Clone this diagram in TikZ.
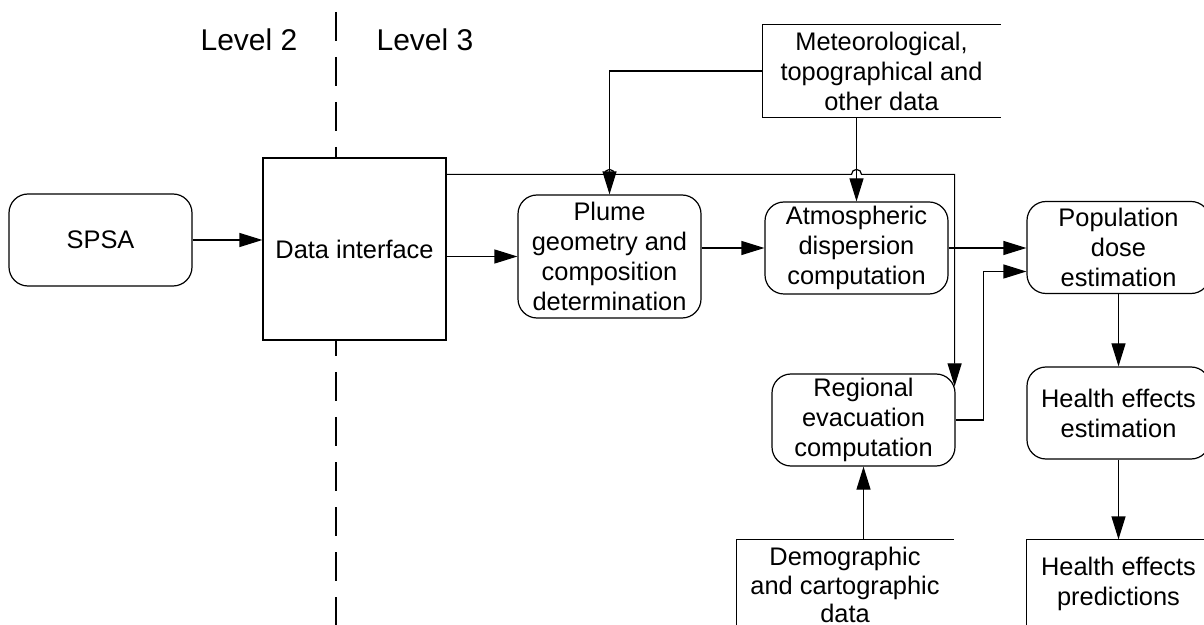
\documentclass[tikz,border=0pt]{standalone}
\usepackage{fontspec}
\setmainfont{Liberation Sans}
\usetikzlibrary{arrows.meta,calc}

\begin{document}
\begin{tikzpicture}[x=0.5pt,y=-0.5pt,line width=0.6pt,
  every node/.style={font=\fontsize{12.7}{15}\selectfont,align=center},
  proc/.style={draw,rounded corners=9.5pt,fill=white,minimum width=91.5pt,minimum height=46pt,inner sep=0pt},
  store/.style={minimum width=#1,minimum height=46pt,inner sep=0pt},
  lvl/.style={font=\fontsize{15}{18}\selectfont},
  >={Triangle[length=11.5pt,width=7pt]}]
\useasboundingbox (0,0) rectangle (1204,625);
\clip (0,0) rectangle (1204,625);
\draw[dash pattern=on 14.5pt off 8pt] (336,12) -- (336,625);
\node[lvl] (lv2) at (249,40) {Level 2};
\node[lvl] (lv3) at (425,40) {Level 3};
\node[proc] (spsa) at (100.5,240) {SPSA};
\node[draw,fill=white,minimum width=91.5pt,minimum height=91pt,inner sep=0pt] (di) at (354.5,249) {Data interface};
\node[proc,minimum height=61.5pt] (plume) at (609.5,256.5) {Plume\\geometry and\\composition\\determination};
\node[proc] (atmo) at (856.5,248) {Atmospheric\\dispersion\\computation};
\node[proc] (pop) at (1118.5,247.5) {Population\\dose\\estimation};
\node[proc] (he) at (1118.5,413) {Health effects\\estimation};
\node[proc] (reg) at (863.5,420) {Regional\\evacuation\\computation};
\node[store=118.5pt] (met) at (881.5,71) {Meteorological,\\topographical and\\other data};
\node[store=108pt,minimum height=45pt,font=\fontsize{12.7}{14.3}\selectfont] (dem) at (845,585) {Demographic\\and cartographic\\data};
\node[store=91.5pt,minimum height=44pt] (pred) at (1118.5,584) {Health effects\\predictions};
\foreach \s in {met,dem,pred}
  \draw (\s.north east) -- (\s.north west) -- (\s.south west) -- (\s.south east);
\draw[->] (spsa.east) -- (spsa.east -| di.west);
\draw[->] (di.east |- plume.west) -- (plume.west);
\draw[->] (plume.east |- atmo.west) -- (atmo.west);
\draw[->] (atmo.east) -- (atmo.east -| pop.west);
\draw[->] (pop.south) -- (he.north);
\draw[->] (he.south) -- (pred.north);
\draw[->] (reg.south |- dem.north) -- (reg.south);
\draw[->] (met.west) -| (plume.north);
\draw[->] (atmo.north |- met.south) -- (atmo.north);
\coordinate (bus) at ($(di.north east)+(0,17)$);
\coordinate (regin) at ($(reg.north east)+(-1,13)$);
\draw[->] (bus) -- ($(bus -| plume.north)+(-5,0)$) arc[start angle=180,end angle=360,radius=5]
  -- ($(bus -| atmo.north)+(-5,0)$) arc[start angle=180,end angle=360,radius=5]
  -- (bus -| regin) -- (regin);
\draw[->] (reg.east) -- ++(28,0) |- ($(pop.west)+(0,24)$);
\end{tikzpicture}
\end{document}
